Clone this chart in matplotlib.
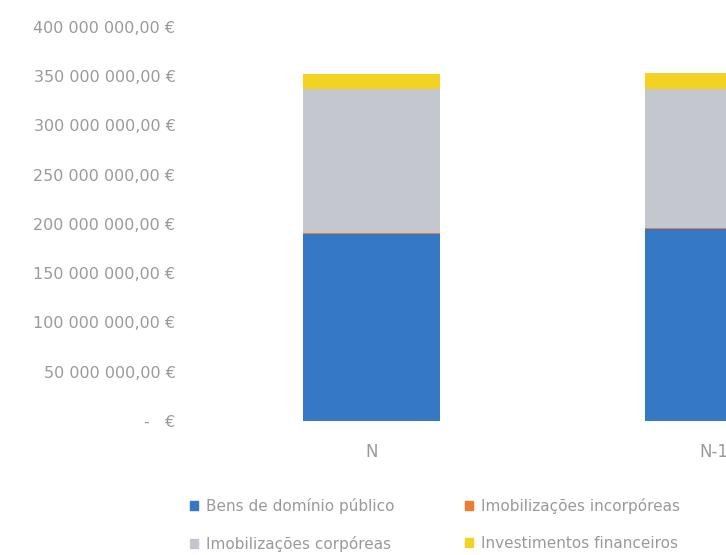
import matplotlib
matplotlib.use("Agg")
import matplotlib.pyplot as plt
from matplotlib.patches import Patch

# values (euros)
periods = ["N", "N-1"]
bens_dominio_publico = [189.5e6, 194.5e6]
imob_incorporeas = [1.0e6, 1.0e6]
imob_corporeas = [146.5e6, 141.5e6]
invest_financeiros = [15.4e6, 16.4e6]

series_names = ["Bens de domínio público", "Imobilizações incorpóreas",
                "Imobilizações corpóreas", "Investimentos financeiros"]
colors = ["#3578C4", "#ED7D31", "#C5C7CF", "#F2D324"]
y_ticks = [0, 50e6, 100e6, 150e6, 200e6, 250e6, 300e6, 350e6, 400e6]

text_col = "#9A9A9A"
plt.rcParams["font.family"] = ["DejaVu Sans"]

fig = plt.figure(figsize=(7.26, 5.55), dpi=100)
# the chart is cropped on the right: the axes run past the figure edge
ax = fig.add_axes([200.5 / 726, 134 / 555, 684 / 726, 394 / 555])

x = range(len(periods))
bottom = [0.0, 0.0]
for vals, col in zip([bens_dominio_publico, imob_incorporeas, imob_corporeas, invest_financeiros], colors):
    ax.bar(x, vals, width=0.4, bottom=bottom, color=col)
    bottom = [b + v for b, v in zip(bottom, vals)]

ax.set_xlim(-0.5, 1.5)
ax.set_ylim(0, 400e6)


def euro(v):
    if v == 0:
        return "-   €"
    return f"{v:,.2f}".replace(",", " ").replace(".", ",") + " €"


ax.set_yticks(y_ticks)
ax.set_yticklabels([euro(v) for v in y_ticks])
ax.set_xticks(list(x))
ax.set_xticklabels(periods)
ax.tick_params(axis="y", length=0, pad=18, labelsize=11.5, labelcolor=text_col)
ax.tick_params(axis="x", length=0, pad=16, labelsize=12, labelcolor=text_col)
for s in ax.spines.values():
    s.set_visible(False)

# title is almost entirely cut off at the top of the picture
fig.text(495 / 726, 1 + 3 / 555, "Ativo fixo", ha="center", va="baseline",
         fontsize=14, color="#D0D0D0")

handles = [Patch(color=colors[0]), Patch(color=colors[2]),
           Patch(color=colors[1]), Patch(color=colors[3])]
labels = [series_names[0], series_names[2], series_names[1], series_names[3]]
fig.legend(handles, labels, ncol=2, loc="upper left",
           bbox_to_anchor=(176 / 726, 1 - 484 / 555), frameon=False,
           fontsize=11, labelcolor=text_col, handlelength=0.55, handleheight=0.55,
           handletextpad=0.5, columnspacing=4.6, labelspacing=1.45)

fig.savefig("out.png", dpi=100)
